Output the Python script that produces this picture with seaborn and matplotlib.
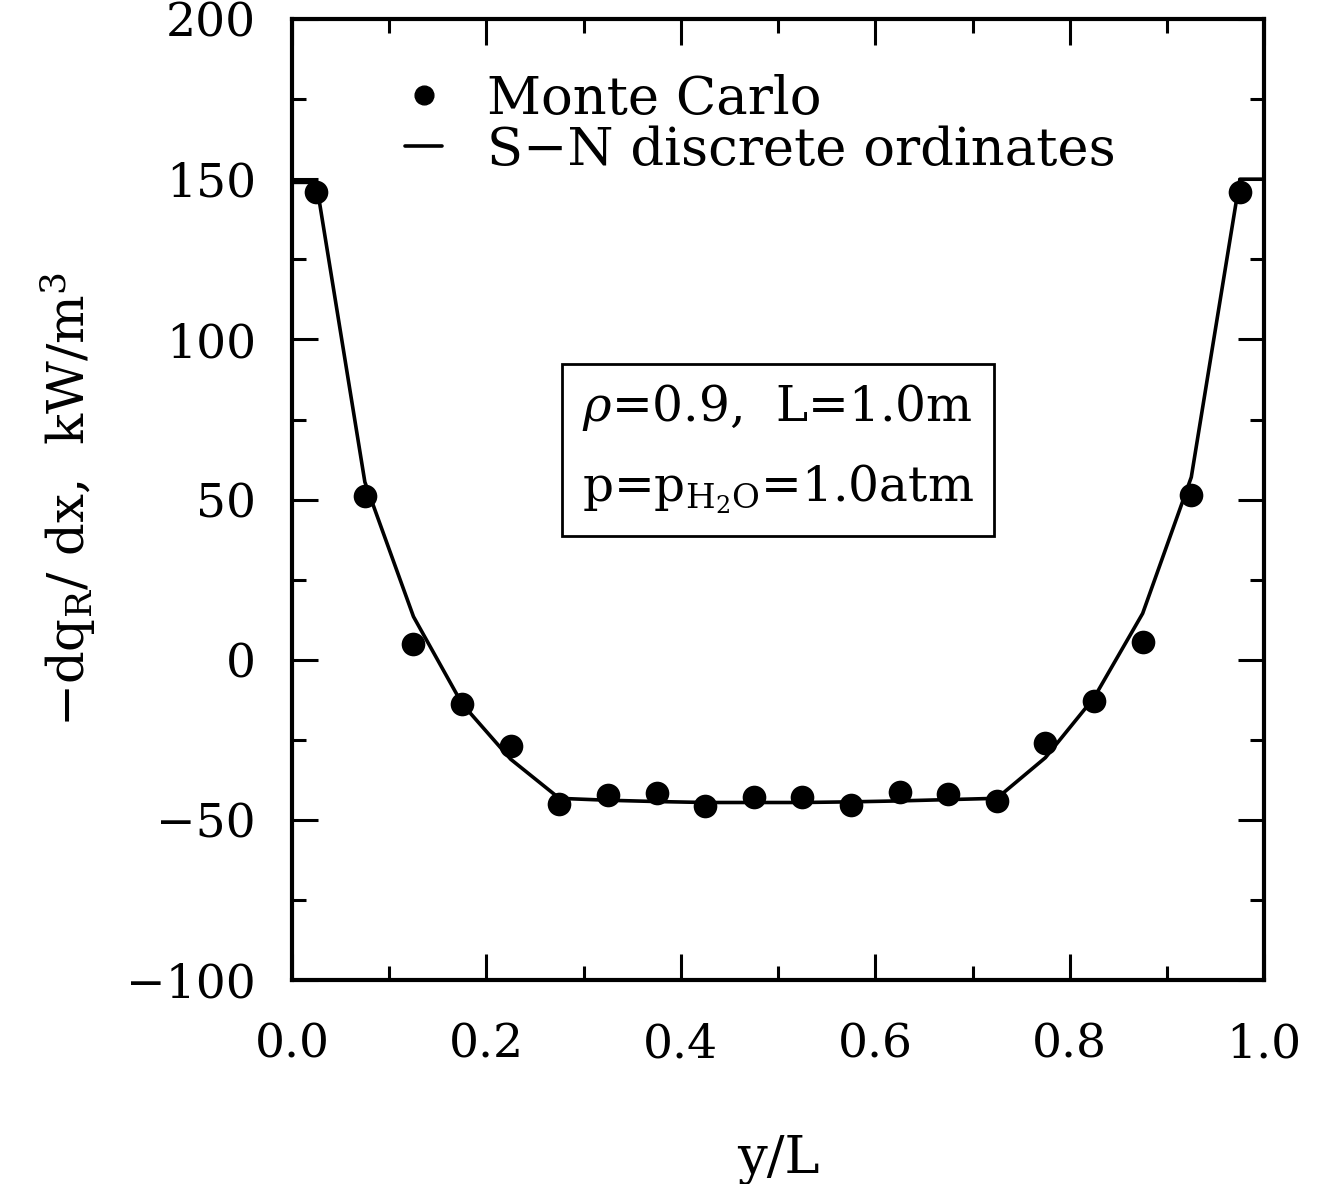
import matplotlib
matplotlib.use("Agg")
import matplotlib.pyplot as plt
import seaborn as sns
import pandas as pd
from matplotlib.lines import Line2D
from matplotlib.ticker import MultipleLocator

# ---- data ----
mc_x = [0.025, 0.075, 0.125, 0.175, 0.225, 0.275, 0.325, 0.375, 0.425, 0.475,
        0.525, 0.575, 0.625, 0.675, 0.725, 0.775, 0.825, 0.875, 0.925, 0.975]
mc_y = [146, 51, 5, -13.7, -26.8, -45, -42.2, -41.5, -45.5, -42.7,
        -42.7, -45.4, -41.3, -41.8, -44, -25.8, -12.7, 5.6, 51.5, 146]

sn_x = [0.0, 0.025, 0.075, 0.125, 0.175, 0.225, 0.275, 0.325, 0.375, 0.425,
        0.475, 0.525, 0.575, 0.625, 0.675, 0.725, 0.775, 0.825, 0.875, 0.925,
        0.975, 1.0]
sn_y = [149, 149, 55.5, 13.5, -13.7, -31, -43.2, -43.8, -44.2, -44.5,
        -44.5, -44.5, -44.3, -44, -43.6, -43.2, -30.5, -11.8, 14.5, 57,
        150, 150]

x_ticks = [0.0, 0.2, 0.4, 0.6, 0.8, 1.0]
x_ticklabels = ["0.0", "0.2", "0.4", "0.6", "0.8", "1.0"]
y_ticks = [-100, -50, 0, 50, 100, 150, 200]
y_ticklabels = ["\u2212100", "\u221250", "0", "50", "100", "150", "200"]

mc = pd.DataFrame({"x": mc_x, "y": mc_y})
sn = pd.DataFrame({"x": sn_x, "y": sn_y})

sns.set_theme(style="ticks")
plt.rcParams["font.family"] = ["DejaVu Serif"]
plt.rcParams["mathtext.fontset"] = "dejavuserif"
plt.rcParams["axes.linewidth"] = 3.0
plt.rcParams["text.color"] = "black"
plt.rcParams["axes.labelcolor"] = "black"
plt.rcParams["xtick.color"] = "black"
plt.rcParams["ytick.color"] = "black"
plt.rcParams["axes.edgecolor"] = "black"

fig = plt.figure(figsize=(13.21, 11.84), dpi=100)
ax = fig.add_axes([0.221, 0.172, 0.736, 0.812])

sns.lineplot(data=sn, x="x", y="y", ax=ax, color="black", linewidth=2.6,
             sort=False, estimator=None, legend=False)
sns.scatterplot(data=mc, x="x", y="y", ax=ax, color="black", s=290,
                edgecolor="black", linewidth=0, legend=False, zorder=3)

ax.set_xlim(0, 1.0)
ax.set_ylim(-100, 200)
ax.set_xticks(x_ticks)
ax.set_xticklabels(x_ticklabels)
ax.set_yticks(y_ticks)
ax.set_yticklabels(y_ticklabels)
ax.xaxis.set_minor_locator(MultipleLocator(0.1))
ax.yaxis.set_minor_locator(MultipleLocator(25))

ax.tick_params(axis="both", which="major", direction="in", length=19, width=2.2,
               top=True, right=True, labelsize=34, color="black", labelcolor="black")
ax.tick_params(axis="both", which="minor", direction="in", length=10, width=2.2,
               top=True, right=True, color="black")
ax.tick_params(axis="x", which="major", pad=30)
ax.tick_params(axis="y", which="major", pad=26)
for s in ax.spines.values():
    s.set_color("black")
    s.set_linewidth(3.0)

ax.set_xlabel("y/L", fontsize=38, labelpad=48, color="black")
ax.set_ylabel(r"$-$dq$_{\mathregular{R}}$/ dx,  kW/m$^{\mathregular{3}}$", fontsize=37,
              labelpad=20, color="black")

handles = [
    Line2D([], [], marker="o", color="black", linestyle="none", markersize=13.5),
    Line2D([], [], color="black", linewidth=2.6),
]
leg = ax.legend(handles, ["Monte Carlo", "S\u2212N discrete ordinates"], loc="upper left",
                bbox_to_anchor=(0.095, 0.965), frameon=False, fontsize=38,
                handlelength=0.7, handletextpad=0.85, labelspacing=0.0, borderaxespad=0)
for t in leg.get_texts():
    t.set_color("black")

ax.text(0.5, 0.553, "$\\rho$=0.9,  L=1.0m\np=p$_{\\mathregular{H_2O}}$=1.0atm",
        transform=ax.transAxes, ha="center", va="center", fontsize=35,
        linespacing=1.75, multialignment="left", color="black",
        bbox=dict(boxstyle="square,pad=0.42", facecolor="white", edgecolor="black", linewidth=2))

fig.savefig("out.png", dpi=100, facecolor="white")
